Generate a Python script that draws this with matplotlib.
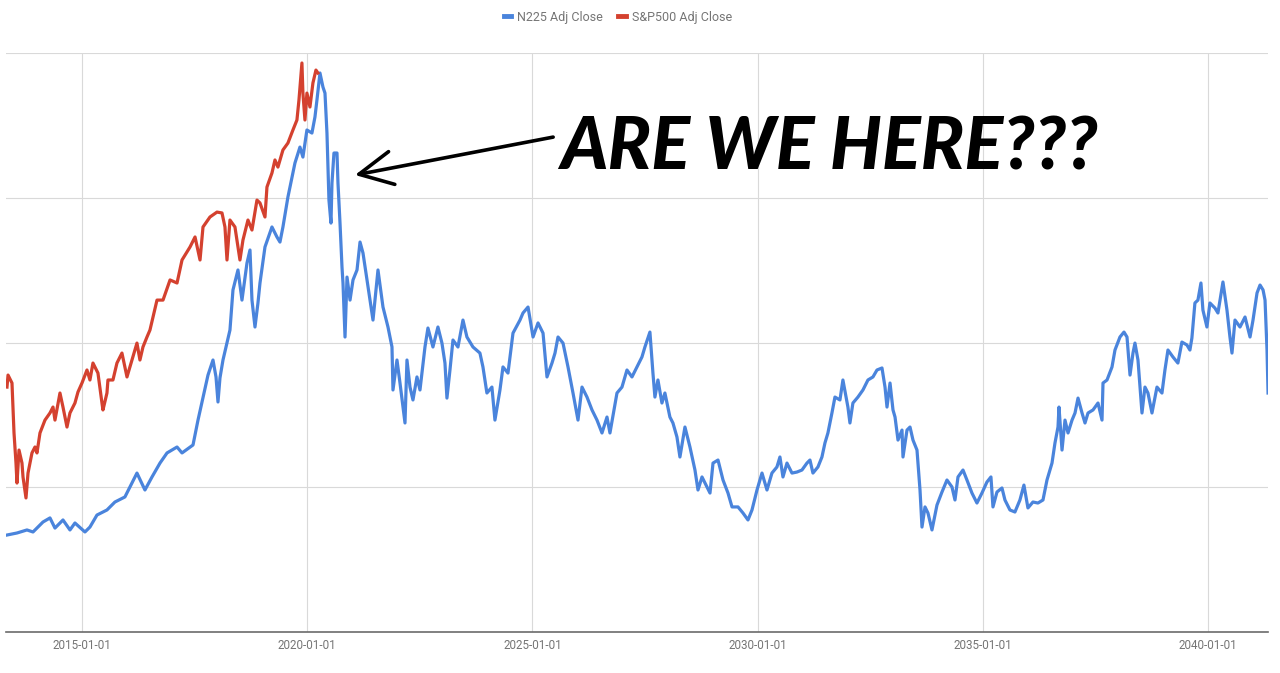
import numpy as np
import matplotlib
matplotlib.use("Agg")
import matplotlib.pyplot as plt
from matplotlib.lines import Line2D
import datetime as dt

# ---------------- data (decimal year, close in thousands) ----------------
n225_years = [
    2013.334, 2013.556, 2013.778, 2013.912, 2014.134, 2014.289, 2014.400, 2014.578, 2014.733, 2014.844,
    2015.066, 2015.177, 2015.333, 2015.555, 2015.732, 2015.954, 2016.065, 2016.221, 2016.398, 2016.554,
    2016.731, 2016.887, 2017.109, 2017.220, 2017.464, 2017.575, 2017.664, 2017.797, 2017.908, 2017.975,
    2018.019, 2018.063, 2018.130, 2018.219, 2018.285, 2018.352, 2018.463, 2018.552, 2018.663, 2018.730,
    2018.774, 2018.841, 2018.907, 2018.952, 2019.063, 2019.218, 2019.329, 2019.396, 2019.462, 2019.573,
    2019.729, 2019.840, 2019.906, 2019.995, 2020.106, 2020.173, 2020.217, 2020.284, 2020.350, 2020.395,
    2020.439, 2020.483, 2020.528, 2020.550, 2020.594, 2020.661, 2020.683, 2020.728, 2020.772, 2020.794,
    2020.839, 2020.883, 2020.950, 2021.016, 2021.105, 2021.172, 2021.238, 2021.394, 2021.460, 2021.571,
    2021.682, 2021.793, 2021.882, 2021.904, 2021.993, 2022.060, 2022.126, 2022.171, 2022.215, 2022.282,
    2022.348, 2022.437, 2022.504, 2022.615, 2022.681, 2022.792, 2022.903, 2022.992, 2023.059, 2023.103,
    2023.170, 2023.237, 2023.348, 2023.459, 2023.547, 2023.681, 2023.836, 2023.903, 2023.991, 2024.102,
    2024.169, 2024.280, 2024.347, 2024.458, 2024.569, 2024.724, 2024.791, 2024.902, 2025.013, 2025.124,
    2025.235, 2025.323, 2025.434, 2025.501, 2025.568, 2025.679, 2025.790, 2025.901, 2026.012, 2026.101,
    2026.212, 2026.323, 2026.434, 2026.545, 2026.656, 2026.722, 2026.878, 2026.989, 2027.100, 2027.211,
    2027.322, 2027.433, 2027.499, 2027.610, 2027.677, 2027.721, 2027.788, 2027.877, 2027.943, 2028.054,
    2028.121, 2028.210, 2028.276, 2028.387, 2028.498, 2028.609, 2028.676, 2028.765, 2028.876, 2028.942,
    2029.009, 2029.120, 2029.231, 2029.342, 2029.431, 2029.564, 2029.675, 2029.786, 2029.875, 2029.986,
    2030.097, 2030.208, 2030.318, 2030.429, 2030.496, 2030.563, 2030.652, 2030.763, 2030.873, 2030.985,
    2031.096, 2031.163, 2031.229, 2031.340, 2031.429, 2031.496, 2031.562, 2031.651, 2031.718, 2031.829,
    2031.895, 2032.006, 2032.051, 2032.117, 2032.228, 2032.339, 2032.450, 2032.561, 2032.650, 2032.761,
    2032.828, 2032.872, 2032.939, 2033.005, 2033.050, 2033.116, 2033.205, 2033.227, 2033.316, 2033.383,
    2033.449, 2033.538, 2033.605, 2033.649, 2033.716, 2033.782, 2033.871, 2033.982, 2034.093, 2034.204,
    2034.315, 2034.382, 2034.449, 2034.560, 2034.648, 2034.759, 2034.870, 2034.981, 2035.092, 2035.181,
    2035.226, 2035.315, 2035.426, 2035.492, 2035.603, 2035.714, 2035.825, 2035.914, 2036.003, 2036.114,
    2036.225, 2036.336, 2036.425, 2036.536, 2036.602, 2036.669, 2036.691, 2036.758, 2036.824, 2036.891,
    2036.980, 2037.046, 2037.113, 2037.202, 2037.268, 2037.335, 2037.446, 2037.557, 2037.646, 2037.668,
    2037.757, 2037.868, 2037.934, 2038.045, 2038.134, 2038.201, 2038.268, 2038.334, 2038.378, 2038.445,
    2038.534, 2038.600, 2038.667, 2038.756, 2038.867, 2038.978, 2039.044, 2039.111, 2039.222, 2039.332,
    2039.421, 2039.532, 2039.599, 2039.643, 2039.710, 2039.777, 2039.844, 2039.888, 2039.977, 2040.043,
    2040.154, 2040.221, 2040.332, 2040.421, 2040.487, 2040.532, 2040.599, 2040.710, 2040.821, 2040.932,
    2040.998, 2041.087, 2041.154, 2041.221, 2041.265, 2041.309, 2041.332,
]
n225_close_k = [
    6.70, 6.84, 7.05, 6.91, 7.60, 7.88, 7.18, 7.74, 7.05, 7.53,
    6.91, 7.25, 8.08, 8.43, 8.98, 9.33, 10.02, 10.98, 9.81, 10.71,
    11.67, 12.37, 12.78, 12.37, 12.92, 14.64, 15.89, 17.75, 18.79, 17.62,
    15.89, 17.55, 18.79, 19.96, 20.86, 23.63, 25.01, 22.93, 25.49, 26.39,
    22.93, 21.07, 22.73, 24.11, 26.60, 27.98, 27.29, 26.94, 27.98, 30.05,
    32.40, 33.50, 32.81, 34.68, 34.47, 35.58, 36.75, 38.62, 37.65, 37.23,
    34.47, 29.84, 28.25, 31.02, 33.09, 33.09, 31.02, 28.25, 25.21, 24.11,
    20.38, 24.52, 22.93, 24.32, 25.01, 26.94, 26.18, 22.93, 21.55, 25.01,
    22.45, 21.07, 19.69, 16.72, 18.79, 17.20, 15.54, 14.44, 18.79, 16.92,
    16.03, 17.62, 16.72, 19.69, 21.00, 19.69, 21.07, 19.96, 18.58, 16.16,
    18.10, 20.17, 19.69, 21.55, 20.38, 19.69, 19.27, 18.31, 16.51, 16.92,
    14.64, 16.72, 18.31, 17.89, 20.65, 21.55, 22.04, 22.45, 20.38, 21.35,
    20.65, 17.62, 18.58, 19.27, 20.38, 19.96, 18.31, 16.51, 14.64, 16.92,
    16.23, 15.34, 14.64, 13.75, 14.85, 13.75, 16.51, 16.92, 18.10, 17.62,
    18.31, 19.00, 19.69, 20.72, 17.89, 16.23, 17.41, 15.82, 16.51, 14.85,
    14.44, 13.47, 12.09, 14.16, 12.78, 11.19, 9.81, 10.71, 10.02, 9.60,
    11.67, 11.88, 10.50, 9.60, 8.64, 8.64, 8.22, 7.74, 8.43, 9.81,
    10.98, 9.81, 10.98, 11.40, 12.09, 10.71, 11.67, 10.98, 11.05, 11.19,
    11.67, 11.88, 10.98, 11.40, 12.09, 13.06, 13.75, 15.13, 16.23, 16.03,
    17.41, 15.54, 14.44, 15.82, 16.23, 16.72, 17.41, 17.62, 18.10, 18.24,
    16.92, 15.54, 17.20, 15.34, 14.85, 13.26, 13.95, 12.09, 13.95, 14.16,
    13.26, 12.57, 9.81, 7.25, 8.64, 8.22, 7.05, 8.77, 9.67, 10.50,
    10.02, 9.12, 10.71, 11.19, 10.50, 9.60, 8.91, 9.60, 10.36, 10.71,
    8.64, 9.67, 9.95, 9.12, 8.43, 8.29, 9.12, 10.15, 8.57, 8.98,
    8.91, 9.12, 10.50, 11.67, 13.06, 14.16, 15.54, 12.57, 14.64, 13.75,
    14.64, 15.13, 16.16, 15.13, 14.44, 15.13, 15.34, 15.82, 14.64, 17.20,
    17.41, 18.31, 19.48, 20.38, 20.72, 20.38, 17.75, 19.27, 19.96, 18.79,
    15.13, 16.92, 16.51, 15.13, 16.92, 16.51, 18.10, 19.48, 19.00, 18.58,
    20.03, 19.83, 19.48, 20.31, 22.73, 22.93, 24.11, 22.24, 21.07, 22.73,
    22.38, 22.04, 24.18, 22.24, 20.38, 19.27, 21.55, 21.07, 21.76, 20.38,
    21.55, 23.42, 23.97, 23.63, 22.93, 19.48, 16.51,
]

sp_years = [
    2013.334, 2013.357, 2013.445, 2013.490, 2013.534, 2013.556, 2013.601, 2013.667, 2013.690, 2013.756,
    2013.801, 2013.889, 2013.956, 2014.000, 2014.067, 2014.178, 2014.289, 2014.356, 2014.400, 2014.511,
    2014.578, 2014.667, 2014.733, 2014.844, 2014.911, 2015.000, 2015.111, 2015.177, 2015.244, 2015.355,
    2015.444, 2015.466, 2015.555, 2015.577, 2015.688, 2015.777, 2015.888, 2016.000, 2016.065, 2016.221,
    2016.287, 2016.354, 2016.443, 2016.509, 2016.665, 2016.798, 2016.954, 2017.109, 2017.220, 2017.398,
    2017.509, 2017.620, 2017.686, 2017.841, 2017.997, 2018.108, 2018.174, 2018.219, 2018.285, 2018.396,
    2018.507, 2018.574, 2018.685, 2018.774, 2018.885, 2018.952, 2019.063, 2019.107, 2019.218, 2019.285,
    2019.351, 2019.462, 2019.573, 2019.684, 2019.773, 2019.818, 2019.884, 2019.906, 2019.951, 2019.995,
    2020.062, 2020.128, 2020.195, 2020.239,
]
sp_close_k = [
    16.92, 17.75, 17.20, 13.75, 11.67, 10.29, 12.57, 11.67, 10.71, 9.26,
    10.98, 12.37, 12.78, 12.37, 13.75, 14.64, 15.13, 15.54, 14.64, 16.51,
    15.54, 14.16, 15.13, 15.82, 16.58, 17.20, 18.10, 17.41, 18.58, 17.89,
    15.82, 15.34, 16.51, 17.41, 17.41, 18.58, 19.27, 17.62, 18.31, 19.96,
    18.79, 19.69, 20.38, 20.86, 22.93, 22.93, 24.32, 24.11, 25.70, 26.60,
    27.29, 25.70, 27.98, 28.67, 29.01, 28.95, 27.98, 25.70, 28.46, 27.98,
    25.70, 27.08, 28.46, 27.77, 29.84, 29.64, 28.67, 30.74, 31.71, 32.61,
    32.12, 33.30, 33.78, 34.68, 35.37, 36.75, 39.31, 37.23, 35.37, 37.23,
    36.27, 37.93, 38.82, 38.62,
]

x_ticks = ["2015-01-01", "2020-01-01", "2025-01-01", "2030-01-01", "2035-01-01", "2040-01-01"]
series_names = ["N225 Adj Close", "S&P500 Adj Close"]
annotation_text = "ARE WE HERE???"


def to_date(y):
    yr = int(np.floor(y))
    start = dt.datetime(yr, 1, 1)
    days = (dt.datetime(yr + 1, 1, 1) - start).days
    return start + dt.timedelta(days=(y - yr) * days)


n225_dates = [to_date(v) for v in n225_years]
sp_dates = [to_date(v) for v in sp_years]
n225_vals = [v * 1000 for v in n225_close_k]
sp_vals = [v * 1000 for v in sp_close_k]

BLUE = "#4a84dc"
RED = "#d4412f"
GRID = "#d9d9d9"
TXT = "#757575"

W, H = 1280, 673
fig = plt.figure(figsize=(W / 100, H / 100), dpi=100)
ax = fig.add_axes([6 / W, (H - 632) / H, (1268 - 6) / W, (632 - 53) / H])

ax.plot(n225_dates, n225_vals, color=BLUE, lw=2.3, solid_joinstyle="round", zorder=3)
ax.plot(sp_dates, sp_vals, color=RED, lw=2.3, solid_joinstyle="round", zorder=4)

ax.set_xlim(to_date(2013.312), to_date(2041.331))
ax.set_ylim(0, 40000)
ax.set_yticks([10000, 20000, 30000, 40000])
ax.set_yticklabels([])
ax.tick_params(axis="y", length=0)
ax.set_xticks([dt.datetime.strptime(t, "%Y-%m-%d") for t in x_ticks])
ax.set_xticklabels(x_ticks)
ax.tick_params(axis="x", length=0, pad=5, labelsize=8.4, labelcolor=TXT)
for lab in ax.get_xticklabels():
    lab.set_family(["Roboto", "DejaVu Sans"])

ax.grid(True, color=GRID, lw=0.8, zorder=0)
ax.set_axisbelow(True)
for s in ["left", "right", "top"]:
    ax.spines[s].set_visible(False)
ax.spines["bottom"].set_color("#6b6b6b")
ax.spines["bottom"].set_linewidth(1.2)
ax.spines["bottom"].set_zorder(5)

# legend
handles = [Line2D([], [], color=BLUE, lw=3.5), Line2D([], [], color=RED, lw=3.5)]
leg = fig.legend(handles, series_names, loc="center", bbox_to_anchor=(618 / W, 1 - 17 / H),
                 ncol=2, frameon=False, handlelength=0.6, handletextpad=0.5, columnspacing=1.2,
                 prop={"family": ["Roboto", "DejaVu Sans"], "size": 9})
for t in leg.get_texts():
    t.set_color(TXT)

# annotation
ax.annotate("", xy=(to_date(2021.06), 31570), xytext=(to_date(2025.46), 34190),
            arrowprops=dict(arrowstyle="->,head_length=1.2,head_width=0.6", color="black",
                            lw=2.6, mutation_scale=20, shrinkA=0, shrinkB=0), zorder=6)
fig.text(560 / W, 1 - 169 / H, annotation_text, ha="left", va="baseline",
         family=["Lato", "DejaVu Sans"], fontweight="black", style="italic",
         fontsize=52, color="black")

fig.savefig("out.png", dpi=100, facecolor="white")
